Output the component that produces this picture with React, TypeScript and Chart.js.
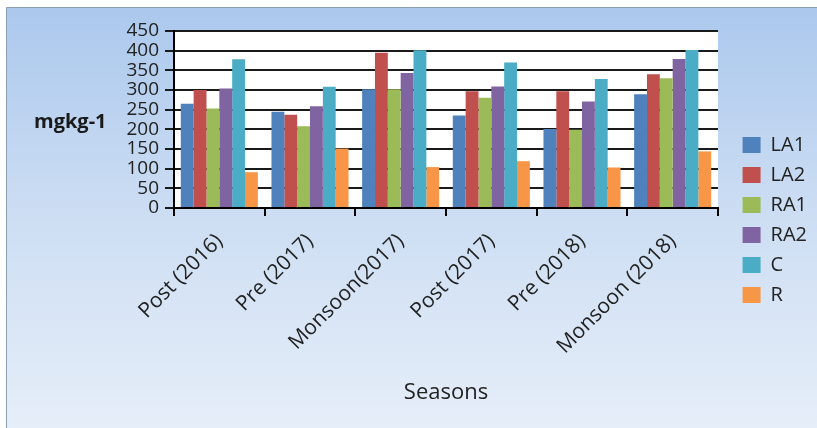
import React, { useEffect, useRef } from 'react';
import { Chart, registerables } from 'chart.js';

Chart.register(...registerables);

const categories = ['Post (2016)', 'Pre (2017)', 'Monsoon(2017)', 'Post (2017)', 'Pre (2018)', 'Monsoon (2018)'];
const seriesNames = ['LA1', 'LA2', 'RA1', 'RA2', 'C', 'R'];
const seriesColors = ['#4F81BD', '#C0504D', '#9BBB59', '#8064A2', '#4BACC6', '#F79646'];

const LA1 = [265, 245, 302, 235, 201, 289];
const LA2 = [300, 237, 395, 297, 297, 340];
const RA1 = [253, 208, 302, 280, 199, 330];
const RA2 = [304, 259, 343, 309, 271, 379];
const C = [378, 308, 401, 370, 328, 402];
const R = [91, 151, 104, 119, 103, 144];

const yTickValues = [0, 50, 100, 150, 200, 250, 300, 350, 400, 450];
const yAxisTitle = 'mgkg-1';
const xAxisTitle = 'Seasons';

const W = 817;
const H = 428;
const FONT = '"Open Sans", "Liberation Sans", sans-serif';

const bgPlugin = {
  id: 'bgPlugin',
  beforeDraw(chart: any) {
    const { ctx, chartArea } = chart;
    ctx.save();
    ctx.fillStyle = '#ffffff';
    ctx.fillRect(0, 0, W, H);
    const g = ctx.createLinearGradient(0, 7, 0, H);
    g.addColorStop(0, '#abc8ed');
    g.addColorStop(0.5, '#cddef3');
    g.addColorStop(1, '#e6eef9');
    ctx.fillStyle = g;
    ctx.fillRect(6, 7, W - 6, H - 7);
    ctx.strokeStyle = '#8d9db4';
    ctx.lineWidth = 1;
    ctx.beginPath();
    ctx.moveTo(6.5, H);
    ctx.lineTo(6.5, 7.5);
    ctx.lineTo(W, 7.5);
    ctx.stroke();
    ctx.fillStyle = '#ffffff';
    ctx.fillRect(chartArea.left, chartArea.top, chartArea.right - chartArea.left, chartArea.bottom - chartArea.top);
    ctx.restore();
  },
  afterDraw(chart: any) {
    const { ctx } = chart;
    ctx.save();
    ctx.fillStyle = '#1a1a1a';
    ctx.font = 'bold 20px ' + FONT;
    ctx.textAlign = 'left';
    ctx.textBaseline = 'alphabetic';
    ctx.fillText(yAxisTitle, 34, 128);
    ctx.restore();
  },
};

export default function App() {
  const ref = useRef<HTMLCanvasElement | null>(null);

  useEffect(() => {
    const canvas = ref.current;
    if (!canvas) return;

    const mctx = document.createElement('canvas').getContext('2d') as CanvasRenderingContext2D;
    mctx.font = '20px ' + FONT;
    let textW = 0;
    for (const n of seriesNames) textW = Math.max(textW, mctx.measureText(n).width);
    // legend width as laid out by Chart.js (vertical legend)
    const legendW = 10 + 18 + 10 + textW + 10;
    const wantLegendLeft = 733;
    const padRight = Math.max(0, W - wantLegendLeft - legendW);
    const legendLeft = W - padRight - legendW;
    const gapW = Math.max(0, legendLeft - 718);

    const values = [LA1, LA2, RA1, RA2, C, R];
    const chart = new Chart(canvas, {
      type: 'bar',
      data: {
        labels: categories,
        datasets: seriesNames.map((name, i) => ({
          label: name,
          data: values[i],
          backgroundColor: seriesColors[i],
          borderWidth: 0,
          categoryPercentage: 0.85,
          barPercentage: 1.0,
        })),
      },
      options: {
        responsive: false,
        animation: false,
        devicePixelRatio: 1,
        layout: { padding: { left: 0, top: 31, bottom: 19, right: padRight } },
        plugins: {
          legend: {
            position: 'right',
            align: 'center',
            labels: {
              boxWidth: 18,
              boxHeight: 16,
              padding: 10,
              color: '#222',
              font: { family: FONT, size: 20 },
            },
          },
          tooltip: { enabled: false },
        },
        scales: {
          x: {
            grid: {
              display: true,
              drawOnChartArea: false,
              drawTicks: true,
              tickLength: 8,
              color: '#000',
              lineWidth: 2,
              offset: true,
            },
            border: { display: true, color: '#000', width: 2 },
            ticks: {
              color: '#222',
              font: { family: FONT, size: 21 },
              minRotation: 45,
              maxRotation: 45,
              padding: 13,
              autoSkip: false,
            },
            title: {
              display: true,
              text: xAxisTitle,
              color: '#222',
              font: { family: FONT, size: 22 },
              padding: { top: 0, bottom: 3 },
            },
            afterFit(scale: any) {
              scale.height = H - 19 - 208;
            },
          },
          y: {
            min: 0,
            max: 450,
            grid: {
              color: '#1a1a1a',
              lineWidth: 2,
              drawTicks: true,
              tickLength: 9,
            },
            border: { display: true, color: '#000', width: 2 },
            ticks: {
              color: '#222',
              font: { family: FONT, size: 19, lineHeight: 1 },
              padding: 6,
              autoSkip: false,
            },
            afterBuildTicks(scale: any) {
              scale.ticks = yTickValues.map((v) => ({ value: v }));
            },
            afterFit(scale: any) {
              scale.width = 174;
            },
          },
          gap: {
            type: 'linear',
            position: 'right',
            display: true,
            grid: { display: false, drawTicks: false },
            ticks: { display: false },
            border: { display: false },
            afterFit(scale: any) {
              scale.width = gapW;
            },
          },
        },
      },
      plugins: [bgPlugin],
    } as any);

    return () => chart.destroy();
  }, []);

  return (
    <div style={{ position: 'absolute', left: 0, top: 0, width: W, height: H }}>
      <canvas ref={ref} width={W} height={H} style={{ width: W, height: H, display: 'block' }} />
    </div>
  );
}
